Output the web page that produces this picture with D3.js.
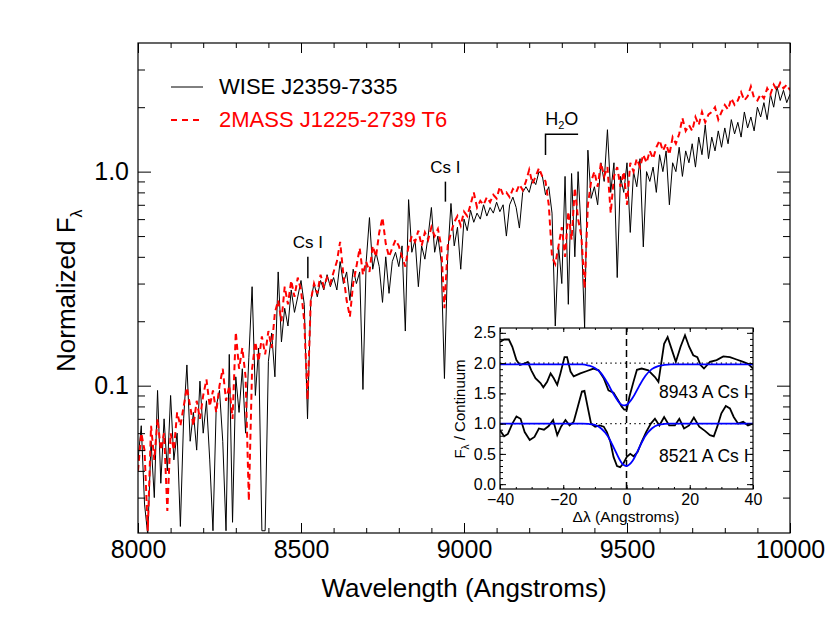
<!DOCTYPE html>
<html>
<head>
<meta charset="utf-8">
<script src="https://cdn.jsdelivr.net/npm/d3@7"></script>
<style>
body { margin: 0; background: #fff; }
text { font-family: "Liberation Sans", Arial, Helvetica, sans-serif; }
</style>
</head>
<body>
<div id="chart"></div>
<script>
// spectra sampled every 10 A from 8000 to 10000 A
var waveStart = 8000, waveEnd = 10000, waveStep = 10;

var wiseFlux = [
	0.045,0.065,0.028,0.020,0.055,0.030,0.095,0.035,0.070,0.040,
	0.090,0.045,0.060,0.022,0.070,0.125,0.055,0.075,0.050,0.105,
	0.060,0.085,0.045,0.021,0.080,0.095,0.055,0.021,0.140,0.023,
	0.110,0.075,0.120,0.060,0.135,0.290,0.090,0.150,0.021,0.021,
	0.130,0.176,0.110,0.340,0.160,0.230,0.190,0.280,0.220,0.260,
	0.310,0.240,0.070,0.250,0.300,0.260,0.310,0.280,0.330,0.290,
	0.320,0.280,0.380,0.300,0.340,0.250,0.350,0.300,0.340,0.096,
	0.380,0.610,0.350,0.420,0.360,0.245,0.400,0.270,0.380,0.420,
	0.360,0.450,0.180,0.740,0.420,0.480,0.290,0.450,0.390,0.500,
	0.680,0.420,0.500,0.380,0.108,0.400,0.710,0.450,0.550,0.350,
	0.600,0.530,0.660,0.580,0.640,0.600,0.700,0.620,0.680,0.640,
	0.720,0.650,0.700,0.500,0.700,0.760,0.680,0.545,0.800,0.850,
	0.800,0.920,0.870,1.000,0.960,0.780,0.850,0.640,0.190,0.450,
	0.300,0.950,0.240,0.980,0.400,1.000,0.500,0.186,1.260,0.750,
	0.850,0.700,1.100,0.900,1.570,0.800,1.100,0.320,0.950,0.800,
	1.100,0.520,1.000,0.850,1.150,0.445,1.000,0.900,1.050,0.800,
	1.200,1.000,1.250,0.700,1.100,1.000,1.300,0.950,1.250,1.100,
	1.350,1.050,1.450,1.200,1.650,1.150,1.450,1.250,1.550,1.300,
	1.600,1.350,1.750,1.500,1.700,1.450,1.900,1.600,1.800,1.550,
	2.000,1.800,2.100,1.750,2.300,2.000,2.500,2.150,2.400,2.100,
	2.300
];

var t6Flux = [
	0.040,0.060,0.050,0.021,0.065,0.045,0.070,0.050,0.060,0.026,
	0.060,0.050,0.075,0.065,0.080,0.098,0.080,0.065,0.085,0.070,
	0.090,0.107,0.080,0.095,0.075,0.100,0.120,0.085,0.100,0.070,
	0.178,0.120,0.150,0.110,0.029,0.120,0.160,0.130,0.170,0.140,
	0.180,0.150,0.220,0.250,0.200,0.290,0.240,0.310,0.260,0.320,
	0.280,0.200,0.086,0.250,0.300,0.270,0.330,0.290,0.320,0.300,
	0.340,0.380,0.470,0.330,0.250,0.210,0.300,0.360,0.440,0.330,
	0.380,0.340,0.450,0.400,0.520,0.610,0.460,0.400,0.440,0.480,
	0.450,0.400,0.360,0.450,0.500,0.470,0.530,0.450,0.520,0.480,
	0.550,0.500,0.540,0.450,0.230,0.450,0.520,0.580,0.620,0.560,
	0.650,0.620,0.700,0.800,0.680,0.730,0.700,0.760,0.720,0.780,
	0.750,0.850,0.780,0.800,0.760,0.830,0.800,0.870,0.820,0.900,
	1.020,0.880,0.950,1.040,0.950,0.900,0.700,0.400,0.370,0.450,
	0.550,0.400,0.650,0.480,0.840,0.600,0.500,0.285,0.700,0.900,
	1.000,0.850,1.100,0.950,1.050,0.640,0.950,1.050,0.850,1.000,
	0.700,1.100,1.000,1.150,1.050,1.200,1.100,1.250,1.150,1.300,
	1.400,1.250,1.350,1.200,1.450,1.350,1.500,1.780,1.550,1.650,
	1.550,1.800,1.650,1.900,1.700,1.850,1.900,2.000,1.750,1.900,
	2.050,1.950,2.200,2.050,2.150,2.350,2.150,2.250,2.500,2.200,
	2.150,2.300,2.200,2.450,2.300,2.550,2.400,2.600,2.450,2.550,
	2.400
];

var seriesNames = ["WISE J2359-7335", "2MASS J1225-2739 T6"];

var xMajor = [8000, 8500, 9000, 9500, 10000];
var yMajor = [0.1, 1.0];
var yMinor = [0.03,0.04,0.05,0.06,0.07,0.08,0.09,0.2,0.3,0.4,0.5,0.6,0.7,0.8,0.9,2,3];

// line annotations: wavelength, tick bottom, tick top, label level
var csLines = [
	{wave: 8521, lo: 0.318, hi: 0.40, text: 0.44},
	{wave: 8943, lo: 0.724, hi: 0.898, text: 0.986}
];
var waterBand = {from: 9250, to: 9350, lo: 1.197, hi: 1.495, text: 1.65};

// inset: residual Cs I profiles (delta lambda, F / continuum)
var cs8943 = [
	[-40,2.35],[-38.7,2.39],[-37.2,2.39],[-36.1,2.27],[-34.8,2.05],[-33.7,1.97],[-32.4,1.99],
	[-31.2,2.02],[-30.1,1.88],[-28.8,1.75],[-27.2,1.67],[-26.3,1.60],[-25.1,1.69],[-24.0,1.83],
	[-23.0,1.75],[-21.9,1.64],[-20.9,1.83],[-19.6,2.10],[-18.8,2.10],[-17.7,1.86],[-16.7,1.78],
	[-14.6,1.83],[-12.5,1.87],[-10.4,1.91],[-8.8,1.88],[-7.2,1.75],[-5.7,1.55],[-4.1,1.51],
	[-2.7,1.39],[-1.5,1.28],[-0.7,1.23],[0.1,1.23],[0.9,1.44],[2.2,1.69],[3.3,1.89],[4.8,1.91],
	[6.9,1.88],[9.0,1.77],[10.1,1.69],[11.9,2.32],[13.0,2.43],[14.4,2.21],[15.6,2.02],[17.1,2.27],
	[18.5,2.46],[19.8,2.27],[21.1,2.13],[22.4,2.10],[23.4,1.97],[24.5,1.91],[26.4,2.02],[28.5,2.05],
	[30.6,2.11],[32.7,2.10],[34.8,2.06],[36.9,2.02],[38.4,1.99],[40.0,1.91]
];
var cs8521 = [
	[-40,0.89],[-38.7,0.79],[-37.5,0.83],[-36.1,1.00],[-34.8,1.12],[-33.5,1.08],[-32.2,0.86],
	[-30.6,0.73],[-29.1,0.78],[-27.7,0.92],[-26.1,0.90],[-24.6,0.96],[-23.2,1.06],[-21.9,0.81],
	[-20.7,0.95],[-19.3,1.06],[-18.0,0.97],[-16.7,1.03],[-15.4,1.28],[-14.1,1.53],[-13.3,1.54],
	[-12.3,1.28],[-11.2,1.00],[-9.9,0.95],[-8.5,0.97],[-7.2,0.95],[-6.2,0.86],[-5.1,0.70],
	[-4.1,0.45],[-3.0,0.30],[-2.0,0.28],[-0.9,0.35],[0.1,0.45],[1.2,0.50],[2.2,0.46],[3.5,0.53],
	[4.8,0.70],[6.2,0.86],[7.7,1.00],[9.0,1.08],[10.4,0.97],[11.9,1.11],[13.5,0.97],[15.3,0.97],
	[16.7,1.08],[18.2,0.92],[19.8,0.97],[21.3,1.10],[23.0,0.95],[24.8,0.88],[26.4,0.81],[27.6,0.79],
	[28.7,0.95],[30.0,1.17],[31.4,1.29],[32.7,1.25],[33.9,1.11],[35.3,1.00],[36.9,1.03],[38.4,0.97],
	[40.0,1.00]
];
// gaussian fits
var fitDl   = [-40, -14, -12, -10, -8, -6, -4, -2, -1, 0, 2, 4, 6, 8, 10, 12, 14, 40];
var fit8943 = [1.98,1.98,1.96,1.92,1.83,1.67,1.48,1.33,1.30,1.31,1.43,1.62,1.79,1.90,1.95,1.97,1.98,1.98];
var fit8521 = [1.00,1.00,0.995,0.98,0.92,0.80,0.60,0.39,0.32,0.30,0.39,0.60,0.80,0.92,0.98,0.995,1.00,1.00];
var insetLabels = ["8943 A Cs I", "8521 A Cs I"];
var insetXMajor = [-40, -20, 0, 20, 40];
var insetYMajor = [0.0, 0.5, 1.0, 1.5, 2.0, 2.5];

var W = 830, H = 623;
var svg = d3.select("#chart").append("svg")
	.attr("width", W).attr("height", H);

var x = d3.scaleLinear().domain([waveStart, waveEnd]).range([138, 790]);
var y = d3.scaleLog().domain([0.0205, 3.99]).range([533, 43]);

var waves = d3.range(waveStart, waveEnd + 1, waveStep);
var wiseData = waves.map(function(w, i) { return [w, wiseFlux[i]]; });
var t6Data = waves.map(function(w, i) { return [w, t6Flux[i]]; });

svg.append("clipPath").attr("id", "plotClip")
	.append("rect").attr("x", 138).attr("y", 43).attr("width", 652).attr("height", 490);

var line = d3.line()
	.x(function(d) { return x(d[0]); })
	.y(function(d) { return y(d[1]); });

var plot = svg.append("g").attr("clip-path", "url(#plotClip)");
plot.append("path").datum(wiseData)
	.attr("d", line).attr("fill", "none")
	.attr("stroke", "#000").attr("stroke-width", 1);
plot.append("path").datum(t6Data)
	.attr("d", line).attr("fill", "none")
	.attr("stroke", "#ff0000").attr("stroke-width", 2)
	.attr("stroke-dasharray", "6,4");

// axes, ticks pointing inward on all four sides
function styleAxis(g) {
	g.select(".domain").remove();
	g.selectAll("line").attr("stroke", "#000");
	g.selectAll("text").attr("fill", "#000").style("font-size", "25px");
}
var xMinor = d3.range(waveStart, waveEnd + 1, 100);

svg.append("g").attr("transform", "translate(0,533)")
	.call(d3.axisBottom(x).tickValues(xMinor).tickSize(-5).tickFormat(""))
	.call(styleAxis);
svg.append("g").attr("transform", "translate(0,533)")
	.call(d3.axisBottom(x).tickValues(xMajor).tickSize(-10).tickPadding(7).tickFormat(d3.format("d")))
	.call(styleAxis);
svg.append("g").attr("transform", "translate(0,43)")
	.call(d3.axisTop(x).tickValues(xMinor).tickSize(-5).tickFormat(""))
	.call(styleAxis);
svg.append("g").attr("transform", "translate(0,43)")
	.call(d3.axisTop(x).tickValues(xMajor).tickSize(-10).tickFormat(""))
	.call(styleAxis);

svg.append("g").attr("transform", "translate(138,0)")
	.call(d3.axisLeft(y).tickValues(yMinor).tickSize(-7).tickFormat(""))
	.call(styleAxis);
svg.append("g").attr("transform", "translate(138,0)")
	.call(d3.axisLeft(y).tickValues(yMajor).tickSize(-13).tickPadding(9).tickFormat(d3.format(".1f")))
	.call(styleAxis);
svg.append("g").attr("transform", "translate(790,0)")
	.call(d3.axisRight(y).tickValues(yMinor).tickSize(-7).tickFormat(""))
	.call(styleAxis);
svg.append("g").attr("transform", "translate(790,0)")
	.call(d3.axisRight(y).tickValues(yMajor).tickSize(-13).tickFormat(""))
	.call(styleAxis);

svg.append("rect").attr("x", 138).attr("y", 43).attr("width", 652).attr("height", 490)
	.attr("fill", "none").attr("stroke", "#000").attr("stroke-width", 1.2);

// axis titles
svg.append("text").attr("x", 464).attr("y", 597)
	.attr("text-anchor", "middle").style("font-size", "26px")
	.text("Wavelength (Angstroms)");
var yTitle = svg.append("text")
	.attr("transform", "translate(75,372) rotate(-90)")
	.style("font-size", "26px");
yTitle.append("tspan").text("Normalized F");
yTitle.append("tspan").attr("dy", 7).style("font-size", "16px").text("λ");

// legend
svg.append("line").attr("x1", 171).attr("x2", 203).attr("y1", 87).attr("y2", 87)
	.attr("stroke", "#000").attr("stroke-width", 1);
svg.append("text").attr("x", 219).attr("y", 94).style("font-size", "22px")
	.text(seriesNames[0]);
svg.append("line").attr("x1", 171).attr("x2", 203).attr("y1", 120).attr("y2", 120)
	.attr("stroke", "#ff0000").attr("stroke-width", 2).attr("stroke-dasharray", "6,5");
svg.append("text").attr("x", 219).attr("y", 127).style("font-size", "22px")
	.attr("fill", "#ff0000").text(seriesNames[1]);

// Cs I markers
csLines.forEach(function(c) {
	svg.append("line").attr("x1", x(c.wave)).attr("x2", x(c.wave))
		.attr("y1", y(c.lo)).attr("y2", y(c.hi))
		.attr("stroke", "#000").attr("stroke-width", 1.5);
	svg.append("text").attr("x", x(c.wave)).attr("y", y(c.text))
		.attr("text-anchor", "middle").style("font-size", "17px").text("Cs I");
});

// H2O band bracket
svg.append("path")
	.attr("d", "M" + x(waterBand.from) + "," + y(waterBand.lo) +
		"V" + y(waterBand.hi) + "H" + x(waterBand.to))
	.attr("fill", "none").attr("stroke", "#000").attr("stroke-width", 1.5);
var h2o = svg.append("text")
	.attr("x", (x(waterBand.from) + x(waterBand.to)) / 2).attr("y", y(waterBand.text))
	.attr("text-anchor", "middle").style("font-size", "18px");
h2o.append("tspan").text("H");
h2o.append("tspan").attr("dy", 4).style("font-size", "11px").text("2");
h2o.append("tspan").attr("dy", -4).text("O");

// ---- inset ----
var ix = d3.scaleLinear().domain([-40, 40]).range([500, 753]);
var iy = d3.scaleLinear().domain([-0.08, 2.58]).range([489, 328]);

svg.append("rect").attr("x", 500).attr("y", 328).attr("width", 253).attr("height", 161)
	.attr("fill", "#fff");
svg.append("clipPath").attr("id", "insetClip")
	.append("rect").attr("x", 500).attr("y", 328).attr("width", 253).attr("height", 161);

var inset = svg.append("g").attr("clip-path", "url(#insetClip)");
var iline = d3.line()
	.x(function(d) { return ix(d[0]); })
	.y(function(d) { return iy(d[1]); });
var fitLine = d3.line()
	.x(function(d) { return ix(d[0]); })
	.y(function(d) { return iy(d[1]); })
	.curve(d3.curveMonotoneX);

[2.0, 1.0].forEach(function(v) {
	inset.append("line").attr("x1", 500).attr("x2", 753).attr("y1", iy(v)).attr("y2", iy(v))
		.attr("stroke", "#000").attr("stroke-width", 1.3).attr("stroke-dasharray", "1.3,3.5");
});
inset.append("line").attr("x1", ix(0)).attr("x2", ix(0)).attr("y1", 328).attr("y2", 489)
	.attr("stroke", "#000").attr("stroke-width", 1.5).attr("stroke-dasharray", "7,4");

[cs8943, cs8521].forEach(function(s) {
	inset.append("path").datum(s).attr("d", iline).attr("fill", "none")
		.attr("stroke", "#000").attr("stroke-width", 1.8);
});
[fit8943, fit8521].forEach(function(f) {
	var pts = fitDl.map(function(d, i) { return [d, f[i]]; });
	inset.append("path").datum(pts).attr("d", fitLine).attr("fill", "none")
		.attr("stroke", "#0000ff").attr("stroke-width", 1.8);
});

inset.append("text").attr("x", 659).attr("y", 398).style("font-size", "17.5px").text(insetLabels[0]);
inset.append("text").attr("x", 659).attr("y", 462).style("font-size", "17.5px").text(insetLabels[1]);

function styleInset(g) {
	g.select(".domain").remove();
	g.selectAll("line").attr("stroke", "#000");
	g.selectAll("text").attr("fill", "#000").style("font-size", "16px");
}
var ixMinor = d3.range(-40, 41, 5);
var iyMinor = d3.range(0, 26).map(function(i) { return i / 10; });

svg.append("g").attr("transform", "translate(0,489)")
	.call(d3.axisBottom(ix).tickValues(ixMinor).tickSize(-2).tickFormat(""))
	.call(styleInset);
svg.append("g").attr("transform", "translate(0,489)")
	.call(d3.axisBottom(ix).tickValues(insetXMajor).tickSize(-4).tickPadding(5).tickFormat(d3.format("d")))
	.call(styleInset);
svg.append("g").attr("transform", "translate(0,328)")
	.call(d3.axisTop(ix).tickValues(ixMinor).tickSize(-2).tickFormat(""))
	.call(styleInset);
svg.append("g").attr("transform", "translate(0,328)")
	.call(d3.axisTop(ix).tickValues(insetXMajor).tickSize(-4).tickFormat(""))
	.call(styleInset);
svg.append("g").attr("transform", "translate(500,0)")
	.call(d3.axisLeft(iy).tickValues(iyMinor).tickSize(-3).tickFormat(""))
	.call(styleInset);
svg.append("g").attr("transform", "translate(500,0)")
	.call(d3.axisLeft(iy).tickValues(insetYMajor).tickSize(-6).tickPadding(4).tickFormat(d3.format(".1f")))
	.call(styleInset);
svg.append("g").attr("transform", "translate(753,0)")
	.call(d3.axisRight(iy).tickValues(iyMinor).tickSize(-3).tickFormat(""))
	.call(styleInset);
svg.append("g").attr("transform", "translate(753,0)")
	.call(d3.axisRight(iy).tickValues(insetYMajor).tickSize(-6).tickFormat(""))
	.call(styleInset);

svg.append("rect").attr("x", 500).attr("y", 328).attr("width", 253).attr("height", 161)
	.attr("fill", "none").attr("stroke", "#000").attr("stroke-width", 1.2);

svg.append("text").attr("x", 626).attr("y", 522).attr("text-anchor", "middle")
	.style("font-size", "15.5px").text("Δλ (Angstroms)");
var iyTitle = svg.append("text")
	.attr("transform", "translate(465,409) rotate(-90)")
	.attr("text-anchor", "middle").style("font-size", "15px");
iyTitle.append("tspan").text("F");
iyTitle.append("tspan").attr("dy", 4).style("font-size", "10px").text("λ");
iyTitle.append("tspan").attr("dy", -4).text(" / Continuum");
</script>
</body>
</html>
